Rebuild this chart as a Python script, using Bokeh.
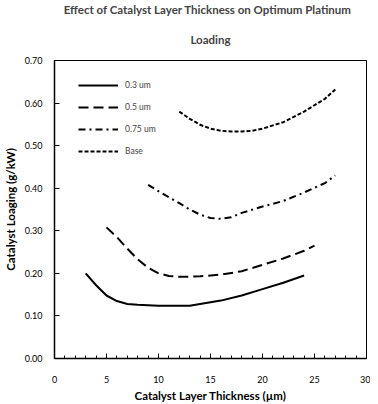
from bokeh.plotting import figure
from bokeh.models import Title, Legend, LegendItem, FixedTicker, NumeralTickFormatter, Range1d
from bokeh.embed import file_html
from bokeh.resources import INLINE

x_03 = [3, 4, 5, 6, 7, 8, 10, 12, 13, 14, 16, 18, 20, 22, 24]
y_03 = [0.200, 0.172, 0.148, 0.135, 0.128, 0.126, 0.124, 0.124, 0.124, 0.128, 0.136, 0.148, 0.163, 0.178, 0.195]

x_05 = [5, 6, 7, 8, 9, 10, 11, 12, 13, 14, 16, 18, 20, 22, 24, 25]
y_05 = [0.308, 0.285, 0.258, 0.233, 0.213, 0.200, 0.194, 0.192, 0.192, 0.193, 0.197, 0.205, 0.220, 0.235, 0.253, 0.265]

x_075 = [9, 10, 11, 12, 13, 14, 15, 16, 17, 18, 20, 22, 24, 26, 27]
y_075 = [0.408, 0.393, 0.379, 0.365, 0.350, 0.338, 0.330, 0.328, 0.332, 0.342, 0.357, 0.370, 0.390, 0.412, 0.430]

x_base = [12, 13, 14, 15, 16, 17, 18, 19, 20, 22, 24, 26, 27]
y_base = [0.580, 0.563, 0.549, 0.540, 0.535, 0.533, 0.533, 0.535, 0.540, 0.555, 0.580, 0.610, 0.632]

series_labels = ["0.3 um", "0.5 um", "0.75 um", "Base"]
title_lines = ["Effect of Catalyst  Layer Thickness on Optimum  Platinum", "Loading"]
y_ticks = [0.0, 0.1, 0.2, 0.3, 0.4, 0.5, 0.6, 0.7]
x_ticks = [0, 5, 10, 15, 20, 25, 30]

FONT = "Lato"

p = figure(frame_width=312, frame_height=298, output_backend="svg", toolbar_location=None,
           x_range=Range1d(0, 30), y_range=Range1d(0, 0.7),
           min_border_left=54, min_border_right=4, min_border_top=10, min_border_bottom=44)
p.title = None
p.add_layout(Title(text=title_lines[1], align="center", text_font=FONT, text_font_size="11.5px",
                   text_font_style="bold", standoff=30), "above")
p.add_layout(Title(text=title_lines[0], align="center", text_font=FONT, text_font_size="11.5px",
                   text_font_style="bold", standoff=0), "above")

p.grid.visible = False
p.outline_line_color = "black"
p.outline_line_width = 1
p.background_fill_color = "white"
p.border_fill_color = "white"

r1 = p.line(x_03, y_03, line_color="black", line_width=2)
r2 = p.line(x_05, y_05, line_color="black", line_width=2, line_dash="10 5")
r3 = p.line(x_075, y_075, line_color="black", line_width=2, line_dash="7 4 2 4")
r4 = p.line(x_base, y_base, line_color="black", line_width=2, line_dash="4 2")

legend = Legend(items=[LegendItem(label=series_labels[0], renderers=[r1]),
                       LegendItem(label=series_labels[1], renderers=[r2]),
                       LegendItem(label=series_labels[2], renderers=[r3]),
                       LegendItem(label=series_labels[3], renderers=[r4])],
                location=(24, 197), padding=0, margin=0, spacing=2,
                glyph_width=40, glyph_height=20, label_height=20, label_standoff=7,
                label_text_font=FONT, label_text_font_size="8.5px",
                border_line_color=None, background_fill_alpha=0)
p.add_layout(legend)

xa = p.xaxis[0]
xa.ticker = FixedTicker(ticks=x_ticks, minor_ticks=list(range(0, 31)))
xa.axis_label = "Catalyst Layer Thickness (\u00b5m)"
ya = p.yaxis[0]
ya.ticker = FixedTicker(ticks=y_ticks)
ya.formatter = NumeralTickFormatter(format="0.00")
ya.axis_label = "Catalyst Loaging (g/kW)"

for ax in (xa, ya):
    ax.axis_line_color = "black"
    ax.axis_line_width = 1.5
    ax.major_tick_in = 5
    ax.major_tick_out = 0
    ax.minor_tick_in = 3
    ax.minor_tick_out = 0
    ax.major_label_text_font = FONT
    ax.major_label_text_font_size = "9px"
    ax.major_label_text_color = "black"
    ax.axis_label_text_font = FONT
    ax.axis_label_text_font_size = "11.5px"
    ax.axis_label_text_font_style = "bold"
    ax.axis_label_text_color = "black"
ya.minor_tick_line_color = None
ya.major_label_standoff = 12
xa.major_label_standoff = 17
xa.axis_label_standoff = 3
ya.axis_label_standoff = 5

open("out.html", "w").write(file_html(p, INLINE))
